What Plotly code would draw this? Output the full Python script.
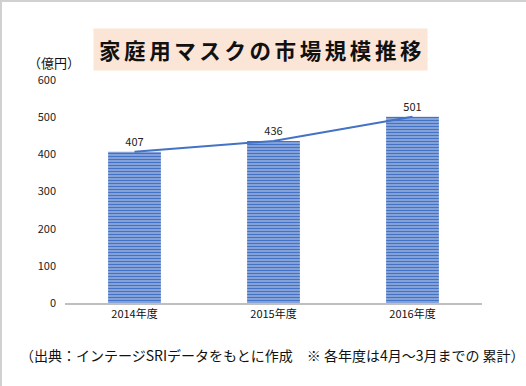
import plotly.graph_objects as go

categories = ["2014年度", "2015年度", "2016年度"]
values = [407, 436, 501]
y_ticks = [0, 100, 200, 300, 400, 500, 600]
title_text = "家庭用マスクの市場規模推移"
unit_text = "（億円）"
note_text = "（出典：インテージSRIデータをもとに作成　※ 各年度は4月～3月までの 累計）"

BLUE = "#4472C4"
FONT = "Noto Sans CJK JP"

fig = go.Figure()
fig.add_trace(go.Bar(
    x=categories, y=values, width=0.38,
    marker=dict(color="white", line=dict(width=0),
                pattern=dict(shape="-", fgcolor=BLUE, bgcolor="#EEF2FA", size=3,
                             solidity=0.75, fgopacity=1)),
    text=[str(v) for v in values], textposition="outside",
    textfont=dict(size=11, color="#222222", family=FONT),
    cliponaxis=False, hoverinfo="skip",
))
fig.add_trace(go.Scatter(
    x=categories, y=values, mode="lines",
    line=dict(color=BLUE, width=2), hoverinfo="skip",
))

spaced_title = "\u2006".join(title_text)

fig.update_layout(
    width=526, height=386,
    margin=dict(l=65, r=44, t=80, b=83),
    paper_bgcolor="white", plot_bgcolor="white",
    showlegend=False,
    font=dict(family=FONT, color="#222222"),
    xaxis=dict(showgrid=False, showline=True, linecolor="#BFBFBF", linewidth=2,
               ticks="", tickfont=dict(size=11, color="#111111"), fixedrange=True),
    yaxis=dict(range=[0, 600], tickvals=y_ticks, showgrid=False, zeroline=False,
               showline=False, ticks="", tickfont=dict(size=11, color="#222222"),
               ticklabelstandoff=8),
    annotations=[
        dict(text="<b>" + spaced_title + "</b>", xref="paper", yref="paper",
             x=(260.5 - 65) / 417, y=1 + (80 - 49) / 223, xanchor="center", yanchor="middle",
             showarrow=False, bgcolor="#FBE5D6", borderpad=5,
             font=dict(size=21.5, color="#111111", family=FONT)),
        dict(text=unit_text, xref="paper", yref="paper",
             x=(26 - 65) / 417, y=1 + (80 - 62) / 223, xanchor="left", yanchor="middle",
             showarrow=False, font=dict(size=13, color="#111111", family=FONT)),
        dict(text=note_text, xref="paper", yref="paper",
             x=(272 - 65) / 417, y=-(355 - 303) / 223, xanchor="center", yanchor="middle",
             showarrow=False, font=dict(size=14, color="#111111", family=FONT)),
    ],
    shapes=[
        dict(type="line", xref="paper", yref="paper", x0=-64 / 417, x1=-64 / 417,
             y0=-83 / 223, y1=1 + 80 / 223, line=dict(color="#D0D0D0", width=2)),
        dict(type="line", xref="paper", yref="paper", x0=-65 / 417, x1=1 + 44 / 417,
             y0=1 + 79 / 223, y1=1 + 79 / 223, line=dict(color="#D0D0D0", width=2)),
    ],
)

fig.write_html("out.html", config={"displayModeBar": False},
               post_script="document.body.style.margin='0';document.body.style.overflow='hidden';")
